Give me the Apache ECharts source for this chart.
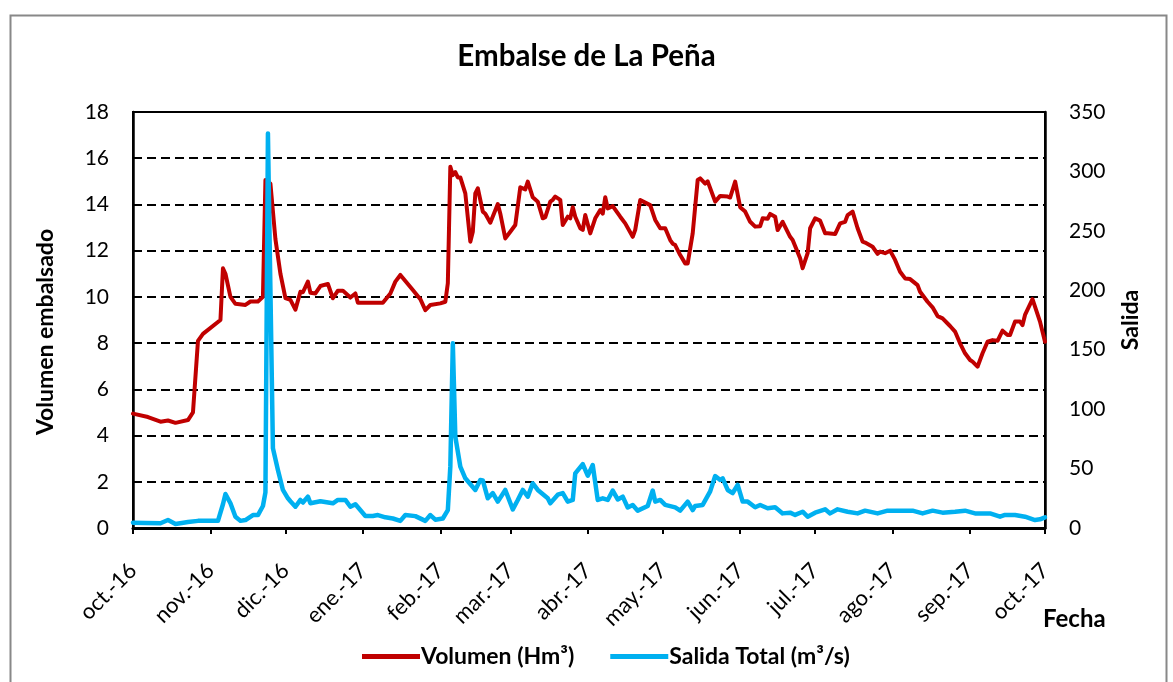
<!DOCTYPE html>
<html>
<head>
<meta charset="utf-8">
<script src="https://cdn.jsdelivr.net/npm/echarts@6/dist/echarts.min.js"></script>
<style>
html,body{margin:0;padding:0;background:#fff;}
#chart{width:1173px;height:682px;}
</style>
</head>
<body>
<div id="chart"></div>
<script>
// Tick marks (month starts) and their labels
const tickDates = ['2016-10-01','2016-11-01','2016-12-01','2017-01-01','2017-02-01','2017-03-01',
  '2017-04-01','2017-05-01','2017-06-01','2017-07-01','2017-08-01','2017-09-01','2017-10-01'];
const tickLabels = ['oct.-16','nov.-16','dic.-16','ene.-17','feb.-17','mar.-17','abr.-17',
  'may.-17','jun.-17','jul.-17','ago.-17','sep.-17','oct.-17'];

// Volumen (Hm³): day offset from 2016-10-01 and value
const volDays = [0,6,11,14,17,22,24,26,28,35,36,37,39,41,45,47,50,52,53,55,57,59,61,63,65,67,68,70,71,73,75,78,80,82,84,87,89,90,93,100,103,105,107,112,115,117,119,123,125,126,127,128,129,130,131,133,135,136,137,138,140,141,143,146,147,149,151,153,155,157,158,160,162,164,165,167,168,169,171,172,174,175,176,177,179,180,181,183,185,187,188,189,190,192,195,197,200,201,203,205,207,209,211,213,215,216,217,219,221,222,224,226,227,229,230,233,235,238,239,241,243,245,247,249,251,252,254,255,257,258,260,263,264,267,268,270,271,273,275,277,278,281,283,285,286,288,290,292,293,296,298,299,301,303,305,307,309,311,314,315,318,320,322,324,327,329,331,333,335,336,338,340,342,344,346,348,350,351,353,355,356,357,360,363,365];
const volValues = [4.95,4.8,4.6,4.65,4.55,4.67,5.0,8.1,8.4,9.0,11.24,11.0,10.0,9.7,9.65,9.8,9.8,10.0,15.06,14.9,12.5,11.0,9.95,9.87,9.45,10.22,10.2,10.66,10.18,10.15,10.47,10.56,9.94,10.27,10.27,9.97,10.15,9.75,9.75,9.75,10.15,10.66,10.95,10.3,9.9,9.43,9.65,9.72,9.79,10.59,15.63,15.27,15.4,15.17,15.17,14.48,12.39,12.82,14.48,14.7,13.69,13.6,13.21,14.02,13.6,12.53,12.82,13.11,14.74,14.65,14.99,14.31,14.12,13.4,13.45,14.12,14.2,14.34,14.2,13.11,13.47,13.4,13.88,13.47,12.97,12.9,13.54,12.75,13.4,13.76,13.6,14.31,13.83,13.93,13.47,13.18,12.6,12.9,14.19,14.08,13.97,13.33,12.97,12.97,12.46,12.3,12.24,11.81,11.45,11.45,12.75,15.06,15.13,14.9,15.0,14.12,14.37,14.34,14.3,14.99,13.88,13.69,13.25,13.04,13.06,13.4,13.38,13.59,13.47,12.89,13.25,12.6,12.46,11.67,11.24,11.89,12.97,13.4,13.3,12.75,12.75,12.72,13.18,13.25,13.54,13.69,12.97,12.39,12.35,12.17,11.86,11.96,11.89,12.0,11.6,11.09,10.8,10.77,10.51,10.22,9.79,9.55,9.17,9.07,8.74,8.5,7.99,7.56,7.27,7.2,6.98,7.56,8.06,8.13,8.1,8.54,8.35,8.35,8.93,8.93,8.78,9.22,9.9,8.93,8.06];

// Salida Total (m³/s): day offset from 2016-10-01 and value
const salDays = [0,5,11,14,17,22,26,34,36,37,39,41,43,45,48,50,52,53,54,56,58,60,62,63,65,67,68,70,71,75,80,82,85,87,89,93,96,98,101,104,107,109,113,117,119,121,124,126,127,128,129,131,133,137,139,140,142,144,146,149,152,154,156,158,160,162,166,167,170,172,174,176,177,180,182,184,186,188,190,192,194,196,198,200,202,206,208,209,211,213,217,219,222,224,225,228,231,233,235,236,238,240,242,244,246,249,251,254,257,260,263,265,268,270,273,277,279,282,286,290,293,298,302,307,312,316,320,324,329,333,337,343,347,349,353,357,361,363,365];
const salValues = [4.5,4.2,4,6.7,3.4,5,6,6,20,28.6,20.8,9.5,6,6.7,10.9,10.9,18.5,30,332,67,48.8,32,25,22.5,17.9,23.6,21.4,26.4,20.8,22.5,20.8,23.6,23.6,17.9,20,10.1,10.1,10.9,9,8,6,10.9,10,6,10.9,7,8,15,51.6,155.4,76.8,51.6,41.8,32,40.4,40,25,29.4,22.2,32,15.7,23.6,32,26.4,37.6,32,25,20.8,28,29.4,22.2,23.6,46,53.8,44,53,23.6,25,23.6,31.5,24,26.4,17.3,19.4,14.6,18.5,31.5,22.2,23.6,19.4,17.3,14.6,22.2,15,18.5,19.4,30.8,43.7,40.4,41.8,32,29.4,36.2,22.2,22.2,17.4,19.4,16.6,17.4,12.3,12.9,11,13.7,9.5,12.9,15.7,12.3,15.7,13.7,12.3,14.6,12.3,14.6,14.6,14.6,12.3,14.6,12.9,13.7,14.6,12.3,12.3,9.5,11,11,9.5,6.7,7.3,9];

// Daily category axis from 2016-10-01 to 2017-10-01
const categories = [];
const t0 = Date.UTC(2016, 9, 1);
for (let i = 0; i <= 365; i++) {
  categories.push(new Date(t0 + i * 86400000).toISOString().slice(0, 10));
}
const volData = volDays.map((d, i) => [categories[d], volValues[i]]);
const salData = salDays.map((d, i) => [categories[d], salValues[i]]);

const FONT = 'Lato';
const isTick = (idx, val) => tickDates.indexOf(val) >= 0;

const chart = echarts.init(document.getElementById('chart'));
chart.setOption({
  animation: false,
  backgroundColor: '#fff',
  textStyle: { fontFamily: FONT, color: '#000' },
  title: {
    text: 'Embalse de La Peña',
    left: 'center',
    top: 36,
    textStyle: { fontFamily: FONT, fontSize: 29.5, fontWeight: 'bold', color: '#000' }
  },
  legend: {
    left: 357,
    top: 640,
    icon: 'rect',
    itemWidth: 58,
    itemHeight: 5,
    itemGap: 36,
    textStyle: { fontFamily: FONT, fontSize: 23, fontWeight: 'bold', color: '#000', padding: [0, 0, 0, -4] },
    data: ['Volumen (Hm³)', 'Salida Total (m³/s)']
  },
  graphic: [
    { type: 'rect', left: 8, top: 13, silent: true, z: -10,
      shape: { width: 1156, height: 700 },
      style: { fill: 'none', stroke: '#888', lineWidth: 2 } },
    { type: 'text', left: 1043, top: 607,
      style: { text: 'Fecha', font: 'bold 24px Lato', fill: '#000' } }
  ],
  grid: {
    left: 133, right: 128, top: 112, bottom: 154,
    show: true, borderColor: '#000', borderWidth: 2, backgroundColor: 'transparent'
  },
  xAxis: {
    type: 'category',
    data: categories,
    boundaryGap: false,
    axisLine: { lineStyle: { color: '#000', width: 3 } },
    axisTick: { show: true, interval: isTick, length: 6, lineStyle: { color: '#000', width: 2 } },
    axisLabel: {
      interval: isTick,
      rotate: 45,
      margin: 39,
      fontFamily: FONT, fontSize: 22, color: '#000',
      formatter: v => tickLabels[tickDates.indexOf(v)]
    },
    splitLine: { show: false }
  },
  yAxis: [
    {
      type: 'value', min: 0, max: 18, interval: 2,
      name: 'Volumen embalsado', nameLocation: 'middle', nameGap: 76,
      nameTextStyle: { fontFamily: FONT, fontSize: 23, fontWeight: 'bold', color: '#000', padding: [0, 24, 0, 0] },
      axisLine: { show: true, lineStyle: { color: '#000', width: 2.5 } },
      axisTick: { show: false },
      axisLabel: { margin: 24, fontFamily: FONT, fontSize: 21, color: '#000' },
      splitLine: { show: true, lineStyle: { color: '#000', width: 2, type: [9, 5] } }
    },
    {
      type: 'value', min: 0, max: 350, interval: 50,
      name: 'Salida', nameLocation: 'middle', nameGap: 74,
      nameTextStyle: { fontFamily: FONT, fontSize: 23, fontWeight: 'bold', color: '#000' },
      axisLine: { show: true, lineStyle: { color: '#000', width: 2.5 } },
      axisTick: { show: false },
      axisLabel: { margin: 24, fontFamily: FONT, fontSize: 21, color: '#000' },
      splitLine: { show: false }
    }
  ],
  series: [
    {
      name: 'Volumen (Hm³)', type: 'line', yAxisIndex: 0,
      data: volData, showSymbol: false, symbol: 'none',
      lineStyle: { color: '#C00000', width: 4, join: 'round', cap: 'round' },
      itemStyle: { color: '#C00000' }
    },
    {
      name: 'Salida Total (m³/s)', type: 'line', yAxisIndex: 1,
      data: salData, showSymbol: false, symbol: 'none',
      lineStyle: { color: '#00B0F0', width: 4.5, join: 'round', cap: 'round' },
      itemStyle: { color: '#00B0F0' }
    }
  ]
});
</script>
</body>
</html>
